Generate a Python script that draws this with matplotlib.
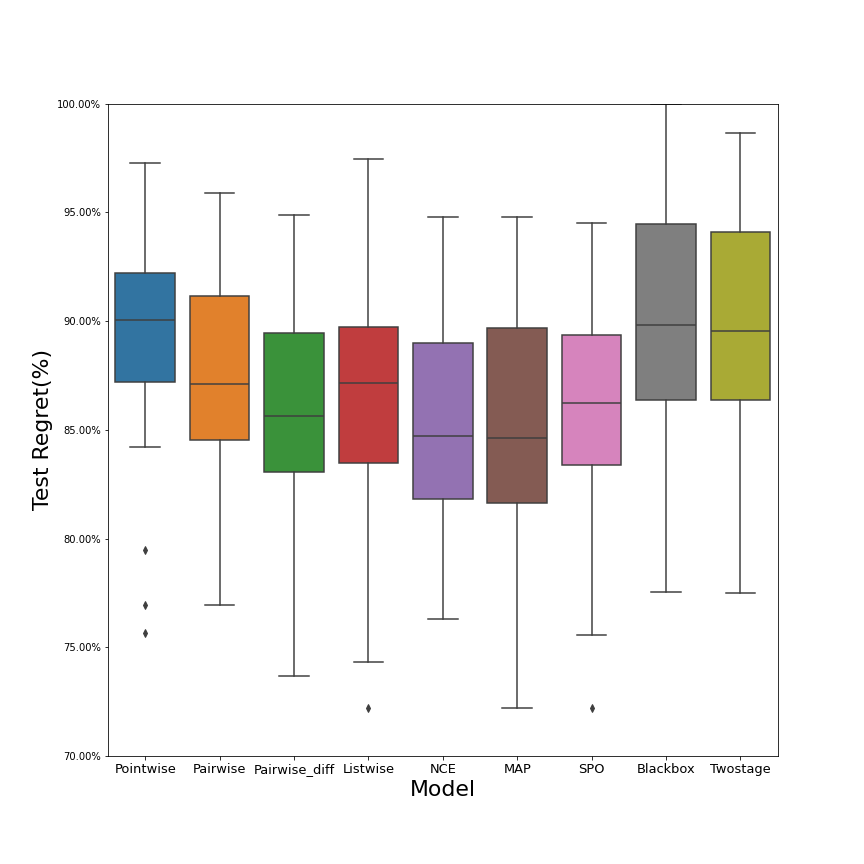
import colorsys
import numpy as np
import matplotlib
matplotlib.use("Agg")
import matplotlib.pyplot as plt
from matplotlib.ticker import PercentFormatter, MultipleLocator

models = ["Pointwise", "Pairwise", "Pairwise_diff", "Listwise", "NCE",
          "MAP", "SPO", "Blackbox", "Twostage"]

# box summary (percent)
whis_lo = [84.22, 76.94, 73.68, 74.32, 76.30, 72.20, 75.56, 77.54, 77.50]
q1      = [87.21, 84.54, 83.07, 83.48, 81.82, 81.64, 83.39, 86.38, 86.38]
med     = [90.06, 87.11, 85.64, 87.16, 84.72, 84.63, 86.24, 89.83, 89.55]
q3      = [92.22, 91.16, 89.46, 89.74, 89.00, 89.69, 89.37, 94.48, 94.11]
whis_hi = [97.28, 95.90, 94.89, 97.47, 94.80, 94.80, 94.52, 100.0, 98.67]
fliers  = [[79.47, 76.94, 75.66], [], [], [72.20], [], [], [72.20], [], []]

palette = ["#1f77b4", "#ff7f0e", "#2ca02c", "#d62728", "#9467bd",
           "#8c564b", "#e377c2", "#7f7f7f", "#bcbd22"]

def desat(c, prop=0.75):
    r, g, b = matplotlib.colors.to_rgb(c)
    h, l, s = colorsys.rgb_to_hls(r, g, b)
    return colorsys.hls_to_rgb(h, l, s * prop)

stats = []
for i, m in enumerate(models):
    stats.append(dict(label=m, whislo=whis_lo[i], q1=q1[i], med=med[i],
                      q3=q3[i], whishi=whis_hi[i], fliers=fliers[i]))

fig, ax = plt.subplots(figsize=(12, 12), dpi=72)
fig.subplots_adjust(left=0.125, right=0.9, top=0.88, bottom=0.125)

gray = "#3f3f3f"
pos = np.arange(len(models))
bp = ax.bxp(stats, positions=pos, widths=0.8, capwidths=0.4, patch_artist=True,
            boxprops=dict(edgecolor=gray, linewidth=1.5),
            medianprops=dict(color=gray, linewidth=1.5),
            whiskerprops=dict(color=gray, linewidth=1.5),
            capprops=dict(color=gray, linewidth=1.5),
            flierprops=dict(marker="d", markerfacecolor=gray, markeredgecolor=gray,
                            markersize=5, linestyle="none"))
for patch, c in zip(bp["boxes"], palette):
    patch.set_facecolor(desat(c))

ax.set_xlim(-0.5, len(models) - 0.5)
ax.set_ylim(70, 100)
ax.yaxis.set_major_locator(MultipleLocator(5))
ax.yaxis.set_major_formatter(PercentFormatter(100, decimals=2))
ax.set_xticks(pos)
ax.set_xticklabels(models, fontsize=13)
ax.tick_params(axis="y", labelsize=10)
ax.set_xlabel("Model", fontsize=22)
ax.set_ylabel("Test Regret(%)", fontsize=22)

fig.savefig("out.png", dpi=72)
